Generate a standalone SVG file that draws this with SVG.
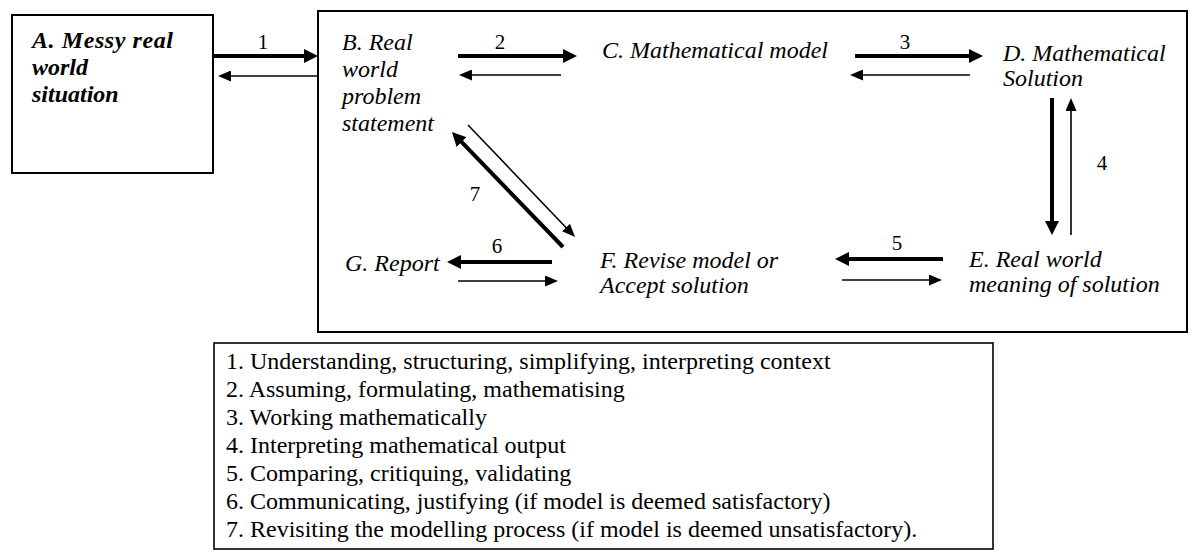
<svg xmlns="http://www.w3.org/2000/svg" width="1192" height="552" viewBox="0 0 1192 552">
<style>
.box{fill:#fff;stroke:#000;stroke-width:2}
.t{font-family:"Liberation Serif","Times New Roman",serif;font-style:italic;font-size:24px;fill:#000}
.tb{font-family:"Liberation Serif","Times New Roman",serif;font-style:italic;font-weight:bold;font-size:24px;fill:#000}
.n{font-family:"Liberation Serif","Times New Roman",serif;font-size:21px;fill:#000}
.lg{font-family:"Liberation Serif","Times New Roman",serif;font-size:24px;fill:#000}
.thick{stroke:#000;stroke-width:4;fill:none;marker-end:url(#hk)}
.thin{stroke:#000;stroke-width:1.6;fill:none;marker-end:url(#hn)}
</style>
<defs>
<marker id="hk" viewBox="0 0 14 14" refX="2" refY="7" markerWidth="14" markerHeight="14" markerUnits="userSpaceOnUse" orient="auto"><path d="M0,0 L14,7 L0,14 z" fill="#000"/></marker>
<marker id="hn" viewBox="0 0 13 11" refX="2" refY="5.5" markerWidth="13" markerHeight="11" markerUnits="userSpaceOnUse" orient="auto"><path d="M0,0 L13,5.5 L0,11 z" fill="#000"/></marker>
</defs>
<rect width="1192" height="552" fill="#fff"/>

<g id="frame">
<rect class="box" x="318" y="11" width="869" height="321"/>
</g>

<g id="nodeA">
<rect class="box" x="12" y="15" width="201" height="158"/>
<text class="tb" x="32" y="48" textLength="141" lengthAdjust="spacing">A. Messy real</text>
<text class="tb" x="32" y="75">world</text>
<text class="tb" x="32" y="102">situation</text>
</g>

<g id="nodeB">
<text class="t" x="342" y="50">B. Real</text>
<text class="t" x="342" y="77">world</text>
<text class="t" x="342" y="104">problem</text>
<text class="t" x="342" y="131">statement</text>
</g>

<g id="nodeC">
<text class="t" x="602" y="58">C. Mathematical model</text>
</g>

<g id="nodeD">
<text class="t" x="1003" y="61">D. Mathematical</text>
<text class="t" x="1003" y="86">Solution</text>
</g>

<g id="nodeE">
<text class="t" x="969" y="267">E. Real world</text>
<text class="t" x="969" y="292">meaning of solution</text>
</g>

<g id="nodeF">
<text class="t" x="600" y="268">F. Revise model or</text>
<text class="t" x="600" y="293">Accept solution</text>
</g>

<g id="nodeG">
<text class="t" x="345" y="271">G. Report</text>
</g>

<g id="connectors">
<line class="thick" x1="213" y1="56" x2="306" y2="56"/>
<line class="thin" x1="318" y1="76" x2="229" y2="76"/>
<line class="thick" x1="458" y1="56" x2="565" y2="56"/>
<line class="thin" x1="561" y1="75" x2="470" y2="75"/>
<line class="thick" x1="855" y1="56" x2="971" y2="56"/>
<line class="thin" x1="970" y1="75" x2="861" y2="75"/>
<line class="thick" x1="1052" y1="98" x2="1052" y2="223"/>
<line class="thin" x1="1071" y1="235" x2="1071" y2="109"/>
<line class="thick" x1="943" y1="259" x2="847" y2="259"/>
<line class="thin" x1="842" y1="280" x2="931" y2="280"/>
<line class="thick" x1="552" y1="262" x2="459" y2="262"/>
<line class="thin" x1="458" y1="281" x2="547" y2="281"/>
<line class="thick" x1="563" y1="247" x2="460.3" y2="140.6"/>
<line class="thin" x1="468" y1="125" x2="567.4" y2="229"/>
<text class="n" x="263" y="49" text-anchor="middle">1</text>
<text class="n" x="500" y="49" text-anchor="middle">2</text>
<text class="n" x="905" y="49" text-anchor="middle">3</text>
<text class="n" x="1102" y="170" text-anchor="middle">4</text>
<text class="n" x="897" y="250" text-anchor="middle">5</text>
<text class="n" x="497" y="253" text-anchor="middle">6</text>
<text class="n" x="475" y="201" text-anchor="middle">7</text>
</g>

<g id="legend">
<rect class="box" x="214" y="343" width="779" height="206" style="stroke-width:1.6"/>
<text class="lg" x="226" y="369">1. Understanding, structuring, simplifying, interpreting context</text>
<text class="lg" x="226" y="397">2. Assuming, formulating, mathematising</text>
<text class="lg" x="226" y="425">3. Working mathematically</text>
<text class="lg" x="226" y="453">4. Interpreting mathematical output</text>
<text class="lg" x="226" y="481">5. Comparing, critiquing, validating</text>
<text class="lg" x="226" y="509">6. Communicating, justifying (if model is deemed satisfactory)</text>
<text class="lg" x="226" y="537">7. Revisiting the modelling process (if model is deemed unsatisfactory).</text>
</g>
</svg>
